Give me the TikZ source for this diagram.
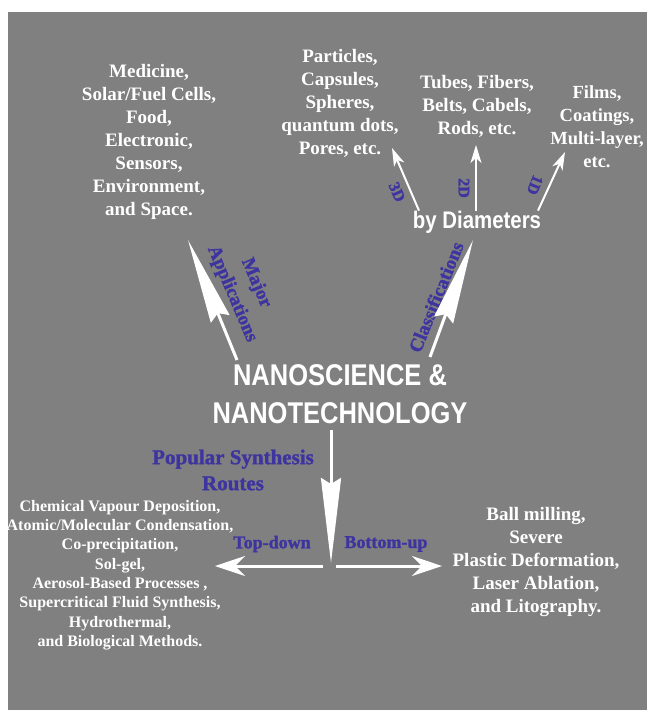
\documentclass[tikz,border=0pt]{standalone}
\usepackage{fontspec}
\setmainfont{Liberation Serif}
\newfontfamily\titlefont{Liberation Sans Bold}[FakeStretch=0.85]
\newfontfamily\tagfont{Liberation Serif Bold}[FakeBold=1.5]
\usetikzlibrary{arrows.meta}
\definecolor{bggray}{RGB}{128,128,128}
\definecolor{routeblue}{RGB}{62,52,160}

\begin{document}
\begin{tikzpicture}[x=1pt,y=-1pt]
    \tikzstyle{every node}=[inner sep=0pt,align=center]
    \tikzstyle{list}=[text=white,font=\bfseries\fontsize{19}{23}\selectfont]
    \tikzstyle{small list}=[text=white,font=\bfseries\fontsize{16}{19.3}\selectfont]
    \tikzstyle{tag}=[text=routeblue,font=\tagfont\fontsize{19}{25}\selectfont]
    \tikzstyle{dim tag}=[text=routeblue,font=\tagfont\fontsize{16}{18}\selectfont]
    \tikzstyle{big arrow}=[white,line width=3pt,-{Stealth[length=85pt,width=20pt,inset=6pt]}]
    \tikzstyle{side arrow}=[white,line width=3pt,-{Stealth[length=30pt,width=20pt,inset=10pt]}]
    \tikzstyle{thin arrow}=[white,line width=2pt,-{Stealth[length=18pt,width=11pt,inset=5pt]}]
    \useasboundingbox (0,0) rectangle (647,710);
    \fill[white] (0,0) rectangle (647,710);
    \fill[bggray] (8,12) rectangle (647,710);
    % white lists
    \node[list] (apps) at (149,142) {Medicine,\\Solar/Fuel Cells,\\Food,\\Electronic,\\Sensors,\\Environment,\\and Space.};
    \node[list] (shapes3d) at (340,103) {Particles,\\Capsules,\\Spheres,\\quantum dots,\\Pores, etc.};
    \node[list] (shapes2d) at (477,106) {Tubes, Fibers,\\Belts, Cabels,\\Rods, etc.};
    \node[list,font=\bfseries\fontsize{18.5}{23}\selectfont] (shapes1d) at (597,127) {Films,\\Coatings,\\Multi-layer,\\etc.};
    \node[text=white,font=\titlefont\fontsize{24}{26}\selectfont] (bydiam) at (477,222) {by Diameters};
    \node[text=white,font=\titlefont\fontsize{30}{38}\selectfont] (title) at (340,394) {NANOSCIENCE \&\\NANOTECHNOLOGY};
    \node[small list] (toplist) at (120,575) {Chemical Vapour Deposition,\\Atomic/Molecular Condensation,\\Co-precipitation,\\Sol-gel,\\Aerosol-Based Processes ,\\Supercritical Fluid Synthesis,\\Hydrothermal,\\and Biological Methods.};
    \node[list] (bottomlist) at (536,562) {Ball milling,\\Severe\\Plastic Deformation,\\Laser Ablation,\\and Litography.};
    % blue tags
    \node[tag,rotate=-67] (major) at (256,283) {Major};
    \node[tag,rotate=-67] (applic) at (232,294) {Applications};
    \node[tag,rotate=68] (classif) at (436,297) {Classifications};
    \node[tag,font=\tagfont\fontsize{21}{26}\selectfont] (routes) at (233,470) {Popular Synthesis\\Routes};
    \node[tag,font=\tagfont\fontsize{18}{22}\selectfont] (topdown) at (272,544) {Top-down};
    \node[tag,font=\tagfont\fontsize{18}{22}\selectfont] (bottomup) at (386,544) {Bottom-up};
    \node[dim tag,rotate=-66] (tag3d) at (397,192) {3D};
    \node[dim tag,rotate=-90] (tag2d) at (464,188) {2D};
    \node[dim tag,rotate=-112] (tag1d) at (535,185) {1D};
    % arrow ends
    \coordinate (ma-tail) at (237,360);
    \coordinate (ma-tip) at (188,240);
    \coordinate (cl-tail) at (430,357);
    \coordinate (cl-tip) at (473,240);
    \coordinate (sr-tail) at (331,430);
    \coordinate (sr-tip) at (331,563);
    \coordinate (td-tail) at (323,566);
    \coordinate (td-tip) at (215,566);
    \coordinate (bu-tail) at (336,566);
    \coordinate (bu-tip) at (442,566);
    \coordinate (d3-tip) at (392,148);
    \coordinate (d2-tip) at (476,145);
    \coordinate (d1-tip) at (565,152);
    % arrows
    \draw[big arrow] (ma-tail) -- (ma-tip);
    \draw[big arrow] (cl-tail) -- (cl-tip);
    \draw[big arrow] (sr-tail) -- (sr-tip);
    \draw[side arrow] (td-tail) -- (td-tip);
    \draw[side arrow] (bu-tail) -- (bu-tip);
    \draw[thin arrow] ([xshift=-58pt]bydiam.north) -- (d3-tip);
    \draw[thin arrow] ([xshift=-1pt]bydiam.north) -- (d2-tip);
    \draw[thin arrow] ([xshift=61pt]bydiam.north) -- (d1-tip);
\end{tikzpicture}
\end{document}
